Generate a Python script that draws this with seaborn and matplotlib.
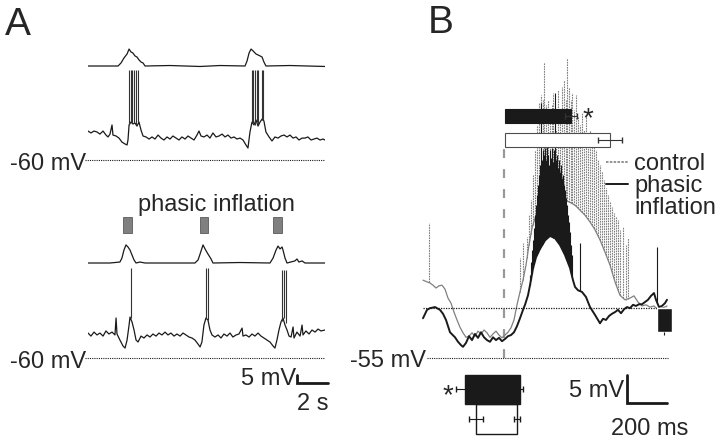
import numpy as np
import matplotlib
matplotlib.use("Agg")
import matplotlib.pyplot as plt
import seaborn as sns
from matplotlib.lines import Line2D

# ---------------- Panel A, upper recording (time s, membrane mV) ----------------
a1_air_t = [0.00, 1.94, 2.13, 2.32, 2.52, 2.65, 2.77, 2.90, 3.03, 3.16, 3.29, 3.42, 3.55, 3.68,
            5.29, 7.23, 8.52, 10.13, 10.26, 10.39, 10.52, 10.65, 10.84, 10.97, 11.10, 11.23,
            11.35, 11.48, 13.03, 15.29]
a1_air = [0, 0, 1.9, 5.0, 7.5, 10.6, 8.8, 8.1, 6.3, 5.6, 3.8, 2.5, 1.9, 0,
          0.3, -0.3, 0.3, 0, 3.1, 8.1, 10.6, 9.4, 7.5, 6.9, 6.3, 5.6, 2.5, 0, 0.3, -0.3]

a1_vm_t = [0.00, 0.19, 0.39, 0.58, 0.77, 0.97, 1.16, 1.29, 1.42, 1.55, 1.61, 1.81, 2.00, 2.19,
           2.39, 2.52, 2.58, 2.65, 2.77, 2.90, 3.03, 3.16, 3.29, 3.42, 3.55, 3.74, 3.94, 4.13,
           4.32, 4.52, 4.71, 4.90, 5.10, 5.29, 5.48, 5.68, 5.87, 6.06, 6.26, 6.45, 6.65, 6.84,
           7.03, 7.16, 7.29, 7.48, 7.68, 7.87, 8.06, 8.26, 8.45, 8.65, 8.84, 9.03, 9.23, 9.42,
           9.61, 9.81, 10.00, 10.19, 10.32, 10.45, 10.58, 10.71, 10.84, 10.97, 11.10, 11.23,
           11.35, 11.48, 11.68, 11.87, 12.06, 12.26, 12.45, 12.65, 12.84, 13.03, 13.23, 13.42,
           13.61, 13.81, 14.00, 14.19, 14.39, 14.58, 14.77, 14.97, 15.16, 15.29]
a1_vm = [-41.9, -43.1, -41.9, -42.5, -43.8, -41.9, -44.4, -45.6, -43.8, -38.1, -44.4, -45.0, -46.3, -48.8,
         -50.0, -50.6, -47.5, -38.1, -36.3, -37.5, -36.9, -38.8, -36.3, -41.3, -45.0, -45.6, -46.9, -45.6,
         -46.9, -44.4, -46.3, -47.5, -45.6, -46.9, -45.0, -46.3, -47.5, -45.6, -46.9, -45.0, -46.3, -47.5,
         -44.4, -41.9, -45.0, -45.6, -44.4, -46.3, -43.1, -45.6, -45.0, -43.8, -45.6, -44.4, -46.3, -45.6,
         -46.9, -46.3, -47.5, -50.6, -52.5, -42.5, -36.3, -38.1, -35.0, -38.8, -36.3, -34.4,
         -35.6, -42.5, -45.6, -48.1, -45.6, -46.3, -45.0, -44.4, -45.6, -44.4, -46.3, -45.6,
         -47.5, -46.3, -46.3, -45.6, -47.5, -46.9, -46.3, -47.5, -46.9, -47.5]

a1_spk_t = [2.65, 2.77, 2.84, 2.97, 3.10, 3.23, 10.58, 10.65, 10.77, 10.90, 10.97, 11.23, 11.29]
a1_spk_base = [-38, -36, -37, -37, -38, -36, -36, -37, -38, -36, -38, -35, -35]
a1_spk_peak = [-4, -4, -4, -4, -4, -4, -4, -4, -4, -4, -4, -4, -4]

# ---------------- Panel A, lower recording with phasic inflation ----------------
a2_stim_on = [2.26, 7.23, 11.94]
a2_stim_dur = [0.58, 0.51, 0.58]

a2_air_t = [0.00, 1.42, 2.06, 2.19, 2.32, 2.45, 2.58, 2.71, 2.84, 2.97, 3.10, 3.35, 3.68, 6.90,
            7.10, 7.23, 7.42, 7.55, 7.74, 7.94, 8.06, 9.81, 11.74, 11.94, 12.13, 12.26, 12.39,
            12.52, 12.58, 12.71, 12.84, 13.35, 13.48, 13.61, 13.81, 14.00, 15.29]
a2_air = [0, 0, 0.6, 3.1, 8.1, 11.3, 10.0, 8.1, 5.0, 1.9, 0, 0.6, 0, 0,
          1.9, 5.6, 11.3, 8.8, 5.6, 2.5, 0, 0.3, 0, 3.1, 8.1, 10.6, 8.8,
          10.0, 8.1, 3.1, 0, 1.3, 2.5, 0.6, 1.3, 0, 0]

a2_vm_t = [0.00, 0.19, 0.39, 0.58, 0.77, 0.97, 1.16, 1.35, 1.55, 1.74, 1.81, 1.87, 2.06, 2.26,
           2.39, 2.52, 2.65, 2.71, 2.84, 2.97, 3.10, 3.23, 3.42, 3.61, 3.81, 4.00, 4.19, 4.39,
           4.58, 4.77, 4.97, 5.16, 5.35, 5.55, 5.74, 5.94, 6.13, 6.32, 6.52, 6.71, 6.90, 7.10,
           7.23, 7.35, 7.48, 7.61, 7.74, 7.87, 8.00, 8.19, 8.39, 8.58, 8.77, 8.97, 9.16, 9.35,
           9.55, 9.74, 9.94, 10.00, 10.19, 10.39, 10.58, 10.77, 10.97, 11.16, 11.35, 11.55,
           11.74, 11.94, 12.06, 12.19, 12.32, 12.45, 12.58, 12.71, 12.84, 12.97, 13.10, 13.23,
           13.29, 13.48, 13.68, 13.81, 13.87, 14.06, 14.26, 14.45, 14.65, 14.84, 15.03, 15.29]
a2_vm = [-44.4, -46.3, -43.8, -45.6, -44.4, -46.3, -43.1, -45.0, -43.8, -45.6, -35.0, -45.0, -48.8, -52.5,
         -53.8, -48.8, -39.4, -34.4, -37.5, -42.5, -48.8, -50.0, -46.3, -47.5, -45.6, -46.9, -45.0, -46.3,
         -44.4, -45.6, -43.8, -45.6, -44.4, -46.3, -45.0, -46.3, -44.4, -45.6, -46.9, -47.5, -48.8, -51.3,
         -53.1, -50.0, -39.4, -35.0, -36.3, -42.5, -45.6, -46.9, -45.6, -47.5, -45.0, -46.3, -44.4, -46.9,
         -45.6, -45.0, -41.3, -46.3, -45.6, -46.9, -45.0, -46.3, -44.4, -46.3, -47.5, -48.8,
         -50.0, -52.5, -53.8, -48.8, -42.5, -37.5, -35.0, -39.4, -42.5, -46.3, -46.9, -40.6,
         -47.5, -43.8, -46.3, -39.4, -45.6, -43.1, -45.0, -42.5, -43.8, -41.9, -43.1, -42.5]

a2_spk_t = [2.77, 7.61, 7.74, 12.52, 12.65, 12.77]
a2_spk_base = [-35, -35, -36, -37, -35, -38]
a2_spk_peak = [-3.8, -3.8, -3.8, -5.0, -5.0, -5.0]

# ---------------- Panel B (time ms, membrane mV) ----------------
b_ctrl_t = [-10, 10, 25, 40, 55, 70, 85, 100, 115, 130, 145, 160, 175, 190, 205, 220, 235, 250,
            265, 280, 295, 310, 325, 340, 355, 370, 385, 400, 415, 430, 445, 460, 475, 490, 505,
            520, 535, 555, 575, 600, 625, 650, 675, 700, 725, 750, 775, 800, 825, 850, 875, 900,
            925, 950, 975, 1000, 1025, 1045, 1065, 1085, 1105, 1125, 1145, 1165, 1185, 1210]
b_ctrl_vm = [-41.1, -41.4, -41.6, -42.0, -42.5, -42.1, -42.0, -42.7, -44.3, -45.2, -46.8, -48.2,
             -49.5, -50.5, -51.3, -51.1, -50.5, -51.1, -50.2, -50.7, -50.0, -50.5, -51.3, -50.7,
             -50.2, -50.9, -51.4, -50.9, -50.4, -49.6, -48.2, -45.5, -43.2, -41.1, -38.4, -34.8,
             -31.8, -29.5, -27.5, -26.5, -26.0, -26.0, -26.3, -26.8, -27.2, -27.7, -28.6, -29.5,
             -30.7, -32.1, -33.9, -36.1, -38.4, -41.4, -43.8, -44.6, -44.3, -43.9, -45.0, -45.7,
             -45.5, -45.9, -45.7, -46.4, -46.1, -45.7]
b_ctrl_spk_t = [20, 475, 490,
                510, 520, 530, 540, 550, 560, 570, 580, 590, 595, 605, 615, 625, 635, 640, 650,
                655, 665, 675, 685, 695, 705, 710, 720, 730, 735, 745, 755, 765, 775, 785, 795,
                805, 815, 825, 835, 845, 855, 865, 875, 885, 895, 905, 915, 925, 935, 945, 955,
                965, 975, 990, 1005, 1015]
b_ctrl_spk_peak = [-30.9, -37.1, -34.5,
                   -33.4, -29.5, -26.8, -22.3, -17.9, -13.4, -9.5, -8.0, -8.9, -2.1, -9.8, -8.9,
                   -11.6, -9.8, -7.7, -12.5, -14.3, -7.1, -11.6, -6.6, -5.4, -8.9, -1.4, -6.6,
                   -8.9, -7.7, -10.7, -8.0, -12.0, -13.4, -11.3, -14.3, -12.0, -15.2, -14.3,
                   -17.0, -16.1, -17.9, -19.6, -20.5, -21.8, -23.2, -24.6, -25.9, -27.1, -28.0,
                   -29.1, -29.8, -30.4, -32.1, -31.6, -34.8, -33.6]
b_ctrl_spk_base = [-41.5, -43.2, -41.1,
                   -37.2, -34.8, -32.8, -31.2, -30.1, -29.0, -28.0, -27.3, -26.9, -26.7, -26.4,
                   -26.2, -26.0, -26.0, -26.0, -26.0, -26.1, -26.2, -26.3, -26.5, -26.7, -26.9,
                   -27.0, -27.1, -27.3, -27.4, -27.6, -27.9, -28.2, -28.6, -29.0, -29.3, -29.7,
                   -30.2, -30.7, -31.3, -31.8, -32.5, -33.2, -33.9, -34.8, -35.7, -36.6, -37.5,
                   -38.4, -39.6, -40.8, -42.0, -42.8, -43.8, -44.3, -44.6, -44.5]

b_inf_t = [-10, 10, 25, 50, 75, 90, 105, 125, 150, 165, 180, 190, 205, 220, 235, 250, 265, 280,
           295, 310, 325, 340, 355, 370, 385, 400, 415, 430, 445, 460, 475, 490, 500, 515, 525,
           540, 555, 575, 600, 625, 650, 675, 700, 725, 740, 750, 765, 785, 805, 825, 850, 875,
           890, 905, 920, 935, 950, 965, 980, 995, 1010, 1025, 1040, 1055, 1070, 1085, 1100,
           1115, 1130, 1145, 1155, 1170, 1185, 1200, 1210]
b_inf_vm = [-47.9, -46.4, -46.1, -45.9, -46.4, -47.1, -48.2, -50.4, -51.3, -52.1, -52.7, -53.0,
            -52.3, -51.1, -51.8, -50.7, -51.4, -50.4, -51.3, -51.8, -52.1, -51.3, -51.8, -51.4,
            -52.0, -51.6, -51.1, -50.9, -50.4, -49.3, -47.9, -46.4, -45.5, -43.8, -42.0, -39.0,
            -37.0, -35.5, -34.0, -33.2, -33.6, -34.8, -36.6, -38.9, -41.1, -42.3, -42.9, -43.2,
            -44.1, -45.9, -47.3, -48.8, -48.0, -48.2, -47.5, -47.1, -46.8, -46.4, -47.0, -46.3,
            -45.9, -46.1, -45.5, -45.7, -45.4, -45.4, -45.0, -44.6, -43.9, -43.4, -44.6, -45.9,
            -45.7, -45.2, -44.6]
b_inf_spk_t = [525, 530, 535, 540, 545, 550, 555, 560, 565, 570, 575, 580, 585, 590, 595, 600,
               605, 610, 615, 620, 625, 630, 635, 640, 645, 650, 655, 660, 665, 670, 675, 680,
               685, 690, 695, 700, 705, 710, 715, 720, 725, 730, 735, 775, 1160]
b_inf_spk_peak = [-40.2, -37.9, -35.7, -33.9, -31.8, -29.5, -27.7, -25.9, -24.1, -22.3, -20.5,
                  -9.5, -19.6, -17.9, -18.8, -17.5, -19.6, -17.0, -18.8, -20.5, -17.9, -19.3,
                  -17.5, -20.0, -17.9, -7.7, -19.6, -18.8, -21.1, -19.6, -21.8, -20.5, -22.9,
                  -22.3, -24.1, -25.0, -26.4, -27.7, -29.5, -30.7, -32.5, -34.8, -36.6, -34.5,
                  -35.2]
b_inf_spk_base = [-42.0, -41.0, -40.0, -39.0, -38.3, -37.7, -37.0, -36.6, -36.2, -35.8, -35.5,
                  -35.2, -34.9, -34.6, -34.3, -34.0, -33.8, -33.6, -33.4, -33.3, -33.2, -33.3,
                  -33.4, -33.5, -33.6, -33.6, -33.8, -34.1, -34.3, -34.6, -34.8, -35.2, -35.5,
                  -35.9, -36.2, -36.6, -37.1, -37.5, -38.0, -38.5, -38.9, -39.8, -40.5, -43.0,
                  -45.0]

# burst timing bars (ms): onset, end, SE of end
burst_groups = ["phasic inflation", "control"]
burst_start = [400, 400]
burst_end = [730, 925]
burst_end_se = [30, 62]
# silent period bars (ms): start, end with SE
silent_start = [200, 255]
silent_start_se = [45, 37]
silent_end = [475, 460]
silent_end_se = [15, 15]
# depolarisation at end of cycle (mV)
late_depol = -4.3
late_depol_se = 0.5

sns.set_theme(style="white")
plt.rcParams["font.family"] = ["Liberation Sans", "DejaVu Sans"]

W, H = 720, 440
fig = plt.figure(figsize=(7.2, 4.4), dpi=100)


def px_axes(x0, y0, x1, y1):
    ax = fig.add_axes([x0 / W, 1 - y1 / H, (x1 - x0) / W, (y1 - y0) / H])
    ax.set_axis_off()
    return ax


def ftext(x, y, s, **kw):
    kw.setdefault("fontsize", 17)
    fig.text(x / W, 1 - y / H, s, **kw)


trace_kw = dict(estimator=None, sort=False, legend=False)

# ---- A top ----
ax1 = px_axes(88, 40, 325, 170)
ax1.set_xlim(0, 15.29)
ax1.set_ylim(-66.25, 15)
sns.lineplot(x=a1_air_t, y=np.array(a1_air) - 1.25, ax=ax1, color="k", lw=0.9, **trace_kw)
sns.lineplot(x=a1_vm_t, y=a1_vm, ax=ax1, color="k", lw=0.9, **trace_kw)
ax1.vlines(a1_spk_t, a1_spk_base, a1_spk_peak, color="0.2", lw=0.8)
ax1.hlines(-60, -0.2, 15.29, color="k", lw=0.8, linestyles=(0, (1, 1)), clip_on=False)

# ---- A bottom ----
ax2 = px_axes(88, 205, 325, 415)
ax2.set_xlim(0, 15.29)
ax2.set_ylim(-95.625, 35.625)
ax2.bar(a2_stim_on, 10, width=a2_stim_dur, bottom=18.1, align="edge",
        color="0.5", edgecolor="0.35", lw=0.6)
sns.lineplot(x=a2_air_t, y=np.array(a2_air) - 0.625, ax=ax2, color="k", lw=0.9, **trace_kw)
sns.lineplot(x=a2_vm_t, y=a2_vm, ax=ax2, color="k", lw=0.9, **trace_kw)
ax2.vlines(a2_spk_t, a2_spk_base, a2_spk_peak, color="0.2", lw=0.8)
ax2.hlines(-60, -0.2, 15.29, color="k", lw=0.8, linestyles=(0, (1, 1)), clip_on=False)
# scale bar 5 mV / 2 s
ax2.plot([13.48, 13.48, 15.48], [-70.6, -75.6, -75.6], color="k", lw=2, clip_on=False,
         solid_joinstyle="miter")

# ---- B traces ----
axb = px_axes(420, 40, 672, 370)
axb.set_xlim(-25, 1235)
axb.set_ylim(-57.14, 1.79)
ctrl_col = "0.5"
axb.vlines(395, -55, -16.4, color="0.6", lw=1.6, linestyles=(0, (4, 5)))
sns.lineplot(x=b_ctrl_t, y=b_ctrl_vm, ax=axb, color=ctrl_col, lw=0.9, **trace_kw)
axb.vlines(b_ctrl_spk_t, b_ctrl_spk_base, b_ctrl_spk_peak, color=ctrl_col, lw=0.8,
           linestyles=(0, (1.5, 0.8)))
sns.lineplot(x=b_inf_t, y=b_inf_vm, ax=axb, color="k", lw=1.4, **trace_kw)
axb.vlines(b_inf_spk_t, b_inf_spk_base, b_inf_spk_peak, color="k", lw=0.8)
axb.hlines(-46.1, -10, 1215, color="k", lw=0.9, linestyles=(0, (1, 1)))
axb.hlines(-55, 10, 1215, color="k", lw=0.8, linestyles=(0, (1, 1)))
axb.bar(1197, late_depol, bottom=-46.1, width=75, color="k", zorder=5)
axb.errorbar(1195, -46.1 + late_depol, yerr=[[late_depol_se], [0]], color="k", lw=0.8,
             capsize=0, zorder=5)
axb.plot([1010, 1010, 1210], [-58.04, -63.04, -63.04], color="k", lw=2, clip_on=False,
         solid_joinstyle="miter")
leg_handles = [Line2D([], [], color=ctrl_col, lw=1.2, ls=(0, (1.5, 0.8))),
               Line2D([], [], color="k", lw=1.4),
               Line2D([], [], color="none")]
fig.legend(leg_handles, ["control", "phasic", "inflation"], loc="upper left",
           bbox_to_anchor=(606 / W, 1 - 153 / H), frameon=False, fontsize=17,
           handlelength=0.95, handletextpad=0.25, labelspacing=0.0, borderpad=0,
           borderaxespad=0)

# ---- B burst duration bars ----
axt = px_axes(420, 105, 672, 151)
axt.set_xlim(-25, 1235)
axt.set_ylim(1.458, -0.458)
widths = np.array(burst_end) - np.array(burst_start)
axt.barh([0, 1], widths, left=burst_start, height=0.583, color=["k", "white"],
         edgecolor=["k", "0.3"], lw=0.8)
axt.errorbar(burst_end, [0, 1], xerr=burst_end_se, fmt="none", ecolor="0.2", lw=0.8,
             capsize=2.5)

# ---- B silent period bars ----
axs = px_axes(420, 370, 672, 440)
axs.set_xlim(-25, 1235)
axs.set_ylim(1.712, -0.661)
sw = np.array(silent_end) - np.array(silent_start)
axs.barh([1], sw[1], left=silent_start[1], height=1.0, color="white", edgecolor="k", lw=1.0)
axs.barh([0], sw[0], left=silent_start[0], height=1.0, color="k", edgecolor="k", lw=1.0)
axs.errorbar(silent_start, [0, 1], xerr=silent_start_se, fmt="none", ecolor="k", lw=0.8,
             capsize=2.5)
axs.errorbar(silent_end, [0, 1], xerr=silent_end_se, fmt="none", ecolor="k", lw=0.8,
             capsize=2.5)

# ---- text ----
ftext(5, 35, "A", fontsize=28, va="baseline")
ftext(428, 33, "B", fontsize=28, va="baseline")
ftext(86, 170, "-60 mV", ha="right", va="baseline")
ftext(86, 368, "-60 mV", ha="right", va="baseline")
ftext(216, 211, "phasic inflation", ha="center", va="baseline")
ftext(296, 385, "5 mV", ha="right", va="baseline")
ftext(313, 410, "2 s", ha="center", va="baseline")
ftext(426, 367, "-55 mV", ha="right", va="baseline")
ftext(624, 397, "5 mV", ha="right", va="baseline")
ftext(650, 435, "200 ms", ha="center", va="baseline")
ftext(588, 126, "*", fontsize=20, ha="center", va="baseline")
ftext(448, 403, "*", fontsize=20, ha="center", va="baseline")

fig.savefig("out.png", dpi=100)
